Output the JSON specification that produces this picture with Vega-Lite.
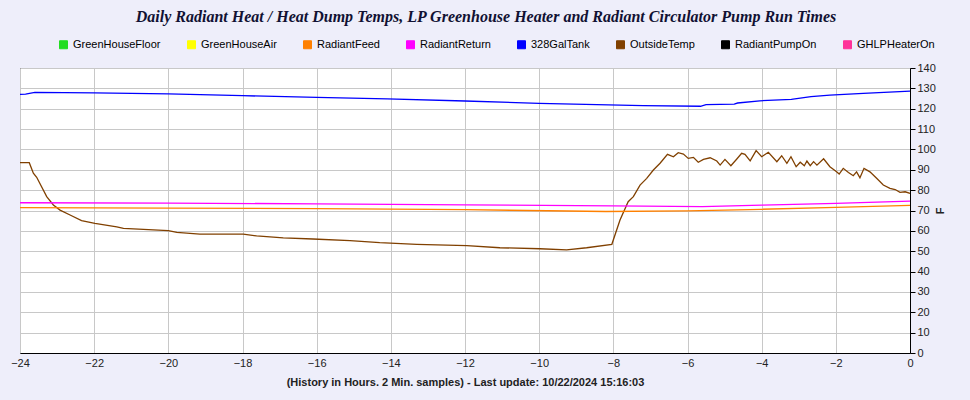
{
  "$schema": "https://vega.github.io/schema/vega-lite/v6.json",
  "autosize": {"type": "none"},
  "width": 890,
  "height": 285,
  "padding": {"left": 20, "top": 68, "right": 60, "bottom": 47},
  "background": "#EEEEFA",
  "title": {
    "text": "Daily Radiant Heat / Heat Dump Temps, LP Greenhouse Heater and Radiant Circulator Pump Run Times",
    "font": "Liberation Serif",
    "fontStyle": "italic",
    "fontWeight": "bold",
    "fontSize": 16,
    "color": "#111133",
    "anchor": "middle",
    "frame": "group",
    "offset": 14,
    "dx": 21
  },
  "config": {
    "view": {"fill": "white", "stroke": "black", "strokeWidth": 1},
    "axis": {"gridColor": "#C8C8C8", "gridWidth": 1, "domainColor": "black", "tickColor": "black", "labelColor": "#222222", "titleColor": "#222222"}
  },
  "data": {
    "values": [
      {"series": "OutsideTemp", "h": -24, "v": 93.5},
      {"series": "OutsideTemp", "h": -23.75, "v": 93.5},
      {"series": "OutsideTemp", "h": -23.64, "v": 88.3},
      {"series": "OutsideTemp", "h": -23.55, "v": 86.3},
      {"series": "OutsideTemp", "h": -23.28, "v": 76.8},
      {"series": "OutsideTemp", "h": -23.1, "v": 72.7},
      {"series": "OutsideTemp", "h": -22.92, "v": 70.2},
      {"series": "OutsideTemp", "h": -22.65, "v": 67.8},
      {"series": "OutsideTemp", "h": -22.34, "v": 65},
      {"series": "OutsideTemp", "h": -21.98, "v": 63.7},
      {"series": "OutsideTemp", "h": -21.39, "v": 62},
      {"series": "OutsideTemp", "h": -21.21, "v": 61.2},
      {"series": "OutsideTemp", "h": -20.0, "v": 60.1},
      {"series": "OutsideTemp", "h": -19.77, "v": 59.3},
      {"series": "OutsideTemp", "h": -19.15, "v": 58.4},
      {"series": "OutsideTemp", "h": -17.98, "v": 58.4},
      {"series": "OutsideTemp", "h": -17.62, "v": 57.5},
      {"series": "OutsideTemp", "h": -16.9, "v": 56.6},
      {"series": "OutsideTemp", "h": -16.1, "v": 56},
      {"series": "OutsideTemp", "h": -15.1, "v": 55.2},
      {"series": "OutsideTemp", "h": -14.3, "v": 54.2},
      {"series": "OutsideTemp", "h": -13.3, "v": 53.4},
      {"series": "OutsideTemp", "h": -11.95, "v": 52.7},
      {"series": "OutsideTemp", "h": -11.06, "v": 51.7},
      {"series": "OutsideTemp", "h": -9.98, "v": 51.2},
      {"series": "OutsideTemp", "h": -9.26, "v": 50.7},
      {"series": "OutsideTemp", "h": -8.72, "v": 51.7},
      {"series": "OutsideTemp", "h": -8.04, "v": 53.4},
      {"series": "OutsideTemp", "h": -7.82, "v": 65.3},
      {"series": "OutsideTemp", "h": -7.6, "v": 74.3},
      {"series": "OutsideTemp", "h": -7.46, "v": 76.8},
      {"series": "OutsideTemp", "h": -7.28, "v": 82.5},
      {"series": "OutsideTemp", "h": -7.1, "v": 85.8},
      {"series": "OutsideTemp", "h": -6.92, "v": 89.9},
      {"series": "OutsideTemp", "h": -6.74, "v": 93.2},
      {"series": "OutsideTemp", "h": -6.54, "v": 97.6},
      {"series": "OutsideTemp", "h": -6.38, "v": 96.4},
      {"series": "OutsideTemp", "h": -6.25, "v": 98.4},
      {"series": "OutsideTemp", "h": -6.11, "v": 97.7},
      {"series": "OutsideTemp", "h": -5.98, "v": 95.6},
      {"series": "OutsideTemp", "h": -5.84, "v": 96.1},
      {"series": "OutsideTemp", "h": -5.71, "v": 93.7},
      {"series": "OutsideTemp", "h": -5.57, "v": 95.1},
      {"series": "OutsideTemp", "h": -5.39, "v": 95.9},
      {"series": "OutsideTemp", "h": -5.21, "v": 94.3},
      {"series": "OutsideTemp", "h": -5.12, "v": 92.3},
      {"series": "OutsideTemp", "h": -4.99, "v": 95.1},
      {"series": "OutsideTemp", "h": -4.83, "v": 92},
      {"series": "OutsideTemp", "h": -4.67, "v": 95.3},
      {"series": "OutsideTemp", "h": -4.54, "v": 98.1},
      {"series": "OutsideTemp", "h": -4.45, "v": 97.6},
      {"series": "OutsideTemp", "h": -4.31, "v": 94.4},
      {"series": "OutsideTemp", "h": -4.15, "v": 99.4},
      {"series": "OutsideTemp", "h": -4.0, "v": 96.4},
      {"series": "OutsideTemp", "h": -3.82, "v": 98.6},
      {"series": "OutsideTemp", "h": -3.59, "v": 94},
      {"series": "OutsideTemp", "h": -3.46, "v": 96.9},
      {"series": "OutsideTemp", "h": -3.32, "v": 93.2},
      {"series": "OutsideTemp", "h": -3.21, "v": 96.4},
      {"series": "OutsideTemp", "h": -3.07, "v": 91.5},
      {"series": "OutsideTemp", "h": -2.96, "v": 93.7},
      {"series": "OutsideTemp", "h": -2.85, "v": 92},
      {"series": "OutsideTemp", "h": -2.78, "v": 94.3},
      {"series": "OutsideTemp", "h": -2.69, "v": 92},
      {"series": "OutsideTemp", "h": -2.6, "v": 94},
      {"series": "OutsideTemp", "h": -2.51, "v": 92.3},
      {"series": "OutsideTemp", "h": -2.33, "v": 95.4},
      {"series": "OutsideTemp", "h": -2.16, "v": 91.5},
      {"series": "OutsideTemp", "h": -1.98, "v": 89},
      {"series": "OutsideTemp", "h": -1.91, "v": 87.9},
      {"series": "OutsideTemp", "h": -1.8, "v": 90.7},
      {"series": "OutsideTemp", "h": -1.66, "v": 88.7},
      {"series": "OutsideTemp", "h": -1.53, "v": 87.1},
      {"series": "OutsideTemp", "h": -1.44, "v": 89},
      {"series": "OutsideTemp", "h": -1.35, "v": 86.1},
      {"series": "OutsideTemp", "h": -1.24, "v": 90.7},
      {"series": "OutsideTemp", "h": -1.08, "v": 89},
      {"series": "OutsideTemp", "h": -0.9, "v": 85.8},
      {"series": "OutsideTemp", "h": -0.72, "v": 82.5},
      {"series": "OutsideTemp", "h": -0.54, "v": 80.9},
      {"series": "OutsideTemp", "h": -0.4, "v": 80.3},
      {"series": "OutsideTemp", "h": -0.27, "v": 78.9},
      {"series": "OutsideTemp", "h": -0.13, "v": 79.2},
      {"series": "OutsideTemp", "h": 0, "v": 78.4},
      {"series": "328GalTank", "h": -24, "v": 127},
      {"series": "328GalTank", "h": -23.85, "v": 127.2},
      {"series": "328GalTank", "h": -23.6, "v": 128},
      {"series": "328GalTank", "h": -22, "v": 127.8},
      {"series": "328GalTank", "h": -20, "v": 127.3},
      {"series": "328GalTank", "h": -18, "v": 126.4},
      {"series": "328GalTank", "h": -16, "v": 125.6},
      {"series": "328GalTank", "h": -14.1, "v": 124.8},
      {"series": "328GalTank", "h": -12, "v": 123.8},
      {"series": "328GalTank", "h": -10, "v": 122.6},
      {"series": "328GalTank", "h": -7.2, "v": 121.5},
      {"series": "328GalTank", "h": -5.65, "v": 121.2},
      {"series": "328GalTank", "h": -5.5, "v": 122},
      {"series": "328GalTank", "h": -4.74, "v": 122.3},
      {"series": "328GalTank", "h": -4.65, "v": 122.8},
      {"series": "328GalTank", "h": -4.05, "v": 123.9},
      {"series": "328GalTank", "h": -3.2, "v": 124.6},
      {"series": "328GalTank", "h": -2.67, "v": 125.9},
      {"series": "328GalTank", "h": -2.16, "v": 126.7},
      {"series": "328GalTank", "h": -1.26, "v": 127.5},
      {"series": "328GalTank", "h": 0, "v": 128.6},
      {"series": "RadiantReturn", "h": -24, "v": 73.8},
      {"series": "RadiantReturn", "h": -20, "v": 73.6},
      {"series": "RadiantReturn", "h": -16, "v": 73.3},
      {"series": "RadiantReturn", "h": -12, "v": 72.8},
      {"series": "RadiantReturn", "h": -8, "v": 72.3},
      {"series": "RadiantReturn", "h": -5.6, "v": 71.9},
      {"series": "RadiantReturn", "h": -4, "v": 72.6},
      {"series": "RadiantReturn", "h": -2, "v": 73.5},
      {"series": "RadiantReturn", "h": 0, "v": 74.6},
      {"series": "RadiantFeed", "h": -24, "v": 71.4},
      {"series": "RadiantFeed", "h": -20, "v": 71.2},
      {"series": "RadiantFeed", "h": -16, "v": 70.9},
      {"series": "RadiantFeed", "h": -12, "v": 70.4},
      {"series": "RadiantFeed", "h": -8.2, "v": 69.5},
      {"series": "RadiantFeed", "h": -6, "v": 69.8},
      {"series": "RadiantFeed", "h": -4, "v": 70.6},
      {"series": "RadiantFeed", "h": -2, "v": 71.5},
      {"series": "RadiantFeed", "h": 0, "v": 72.5}
    ]
  },
  "mark": {"type": "line", "strokeWidth": 1.3, "interpolate": "linear"},
  "encoding": {
    "x": {
      "field": "h", "type": "quantitative",
      "scale": {"domain": [-24, 0], "nice": false},
      "axis": {
        "values": [-24, -22, -20, -18, -16, -14, -12, -10, -8, -6, -4, -2, 0],
        "title": "(History in Hours. 2 Min. samples) - Last update: 10/22/2024 15:16:03",
        "titleFont": "Liberation Sans Narrow, Liberation Sans",
        "titleFontSize": 11,
        "titleFontWeight": "bold",
        "titlePadding": 8,
        "labelFont": "Liberation Sans Narrow, Liberation Sans",
        "labelFontSize": 11,
        "labelPadding": 4,
        "tickSize": 0,
        "labelFlush": false
      }
    },
    "y": {
      "field": "v", "type": "quantitative",
      "scale": {"domain": [0, 140], "nice": false},
      "axis": {
        "orient": "right",
        "values": [0, 10, 20, 30, 40, 50, 60, 70, 80, 90, 100, 110, 120, 130, 140],
        "title": "F",
        "titleAngle": -90,
        "titleFont": "Liberation Sans",
        "titleFontSize": 11,
        "titleFontWeight": "bold",
        "titlePadding": 10,
        "labelFont": "Liberation Sans",
        "labelFontSize": 11,
        "labelPadding": 2,
        "tickSize": 5,
        "labelFlush": false
      }
    },
    "color": {
      "field": "series", "type": "nominal",
      "scale": {
        "domain": ["GreenHouseFloor", "GreenHouseAir", "RadiantFeed", "RadiantReturn", "328GalTank", "OutsideTemp", "RadiantPumpOn", "GHLPHeaterOn"],
        "range": ["#22DD22", "#FFFF00", "#FF8000", "#FF00FF", "#0000FF", "#804000", "#000000", "#FF3399"]
      },
      "legend": {
        "orient": "none",
        "legendX": 38,
        "legendY": -29,
        "direction": "horizontal",
        "title": null,
        "symbolType": "square",
        "symbolSize": 64,
        "labelFont": "Liberation Sans",
        "labelFontSize": 11,
        "labelColor": "black",
        "labelOffset": 4,
        "columnPadding": 24,
        "labelLimit": 200,
        "encode": {
          "symbols": {
            "update": {
              "fill": {"scale": "color", "field": "value"},
              "fillOpacity": {"value": 1},
              "stroke": {"value": "black"},
              "strokeWidth": {"value": 1},
              "opacity": {"value": 1}
            }
          }
        }
      }
    }
  }
}
